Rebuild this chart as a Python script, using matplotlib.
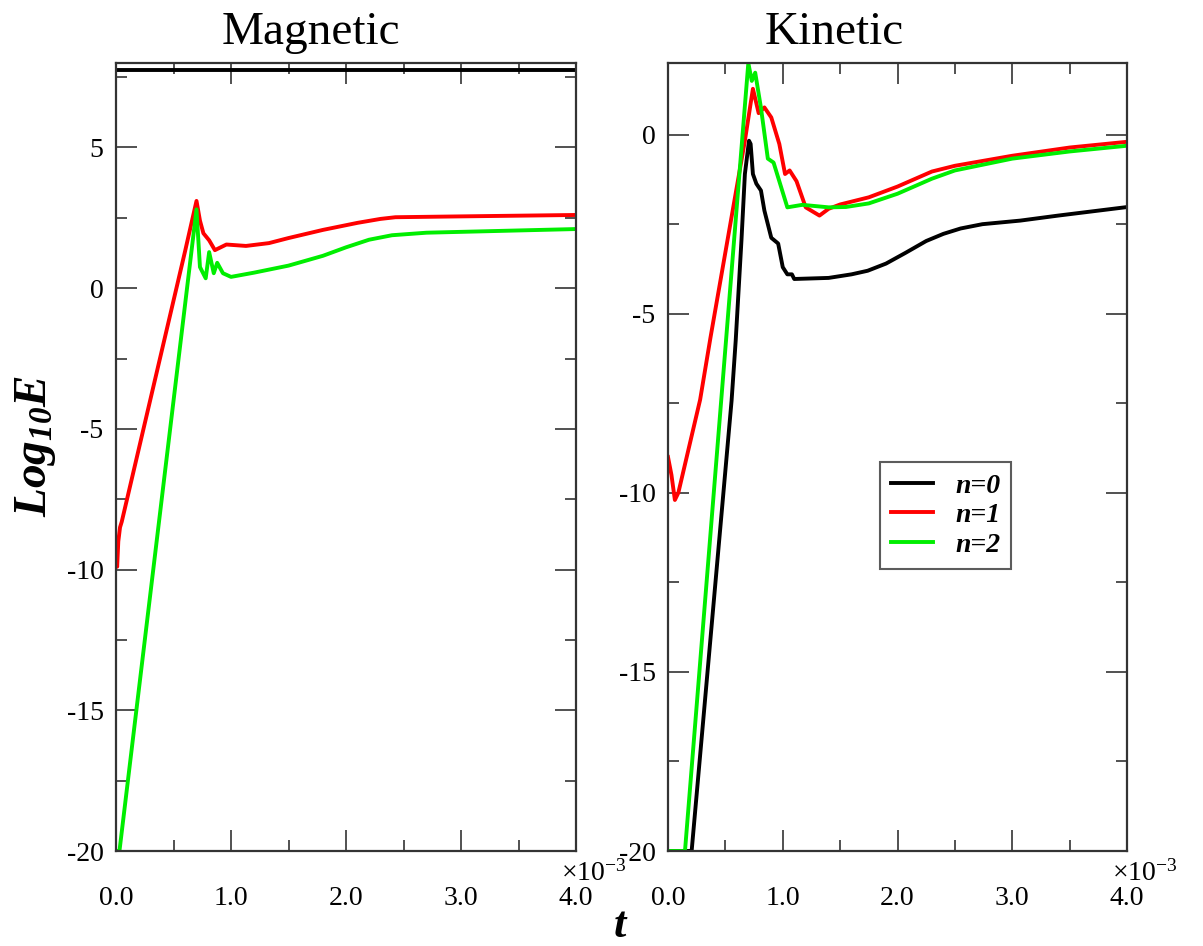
import matplotlib
matplotlib.use('Agg')
import matplotlib.pyplot as plt
from matplotlib.ticker import MultipleLocator, FuncFormatter

plt.rcParams['font.family'] = ['Liberation Serif', 'DejaVu Serif']
plt.rcParams['mathtext.fontset'] = 'custom'
plt.rcParams['mathtext.rm'] = 'Liberation Serif'
plt.rcParams['mathtext.it'] = 'Liberation Serif:italic'
plt.rcParams['mathtext.bf'] = 'Liberation Serif:bold:italic'

# ---------------------------------------------------------------------------
# Data (t in units of 1e-3, values are log10 E)
# ---------------------------------------------------------------------------

# Magnetic
mag_n0_t = [0.0, 4.0]
mag_n0_y = [7.75, 7.75]

mag_n1_t = [0.0, 0.01, 0.02, 0.035, 0.05, 0.6, 0.70, 0.73, 0.76, 0.81, 0.86,
            0.96, 1.13, 1.33, 1.5, 1.8, 2.1, 2.3, 2.43, 3.0, 4.0]
mag_n1_y = [-9.4, -9.9, -9.0, -8.5, -8.3, 1.3, 3.1, 2.4, 1.95, 1.7, 1.35,
            1.55, 1.5, 1.6, 1.78, 2.07, 2.32, 2.46, 2.52, 2.55, 2.6]

mag_n2_t = [0.0, 0.03, 0.24, 0.70, 0.73, 0.78, 0.81, 0.85, 0.88, 0.93, 1.0,
            1.2, 1.5, 1.8, 2.0, 2.2, 2.4, 2.7, 3.0, 4.0]
mag_n2_y = [-20.0, -20.0, -12.86, 2.8, 0.75, 0.35, 1.28, 0.53, 0.9, 0.53, 0.4,
            0.55, 0.8, 1.15, 1.45, 1.72, 1.88, 1.97, 2.0, 2.1]

# Kinetic
kin_n0_t = [0.0, 0.206, 0.554, 0.59, 0.64, 0.67, 0.706, 0.72, 0.74, 0.77,
            0.81, 0.84, 0.90, 0.96, 1.0, 1.04, 1.08, 1.10, 1.40, 1.6, 1.74,
            1.9, 2.07, 2.25, 2.4, 2.55, 2.74, 3.07, 3.4, 3.98]
kin_n0_y = [-20.0, -20.0, -7.43, -5.75, -2.96, -1.1, -0.17, -0.26, -1.1, -1.37,
            -1.56, -2.12, -2.88, -3.04, -3.7, -3.9, -3.9, -4.03, -4.0, -3.9,
            -3.8, -3.6, -3.3, -2.97, -2.77, -2.62, -2.5, -2.4, -2.26, -2.03]

kin_n1_t = [0.0, 0.03, 0.06, 0.09, 0.28, 0.37, 0.67, 0.74, 0.79, 0.84, 0.90,
            0.97, 1.02, 1.06, 1.12, 1.20, 1.32, 1.40, 1.5, 1.75, 2.0, 2.3,
            2.5, 3.0, 3.5, 4.0]
kin_n1_y = [-9.0, -9.5, -10.2, -10.0, -7.4, -5.67, -0.17, 1.28, 0.6, 0.76,
            0.48, -0.26, -1.1, -1.0, -1.3, -2.03, -2.26, -2.07, -1.95, -1.75,
            -1.45, -1.03, -0.87, -0.59, -0.36, -0.2]

kin_n2_t = [0.0, 0.148, 0.70, 0.73, 0.76, 0.81, 0.87, 0.92, 0.97, 1.04, 1.17,
            1.40, 1.55, 1.75, 2.0, 2.3, 2.5, 3.0, 3.5, 4.0]
kin_n2_y = [-20.0, -20.0, 2.0, 1.5, 1.73, 0.75, -0.67, -0.78, -1.3, -2.03,
            -1.96, -2.03, -2.02, -1.92, -1.65, -1.23, -1.0, -0.67, -0.47, -0.31]

COL = {0: 'black', 1: '#ff0000', 2: '#00ee00'}
LW = 2.8

fig = plt.figure(figsize=(12.03, 9.46), dpi=100)
ax_m = fig.add_axes([116 / 1203, 95 / 946, 460 / 1203, 788 / 946])
ax_k = fig.add_axes([668 / 1203, 95 / 946, 459 / 1203, 788 / 946])

ax_m.plot(mag_n0_t, mag_n0_y, color=COL[0], lw=LW)
ax_m.plot(mag_n1_t, mag_n1_y, color=COL[1], lw=LW)
ax_m.plot(mag_n2_t, mag_n2_y, color=COL[2], lw=LW)

ax_k.plot(kin_n0_t, kin_n0_y, color=COL[0], lw=LW, label='n=0')
ax_k.plot(kin_n1_t, kin_n1_y, color=COL[1], lw=LW, label='n=1')
ax_k.plot(kin_n2_t, kin_n2_y, color=COL[2], lw=LW, label='n=2')

ax_m.set_ylim(-20, 8)
ax_k.set_ylim(-20, 2)

fmt_x = FuncFormatter(lambda v, p: f'{v:.1f}')
fmt_y = FuncFormatter(lambda v, p: f'{v:.0f}')

for ax in (ax_m, ax_k):
    ax.set_xlim(0, 4.0)
    ax.xaxis.set_major_locator(MultipleLocator(1.0))
    ax.xaxis.set_minor_locator(MultipleLocator(0.5))
    ax.yaxis.set_major_locator(MultipleLocator(5))
    ax.yaxis.set_minor_locator(MultipleLocator(2.5))
    ax.xaxis.set_major_formatter(fmt_x)
    ax.yaxis.set_major_formatter(fmt_y)
    ax.tick_params(which='both', direction='in', top=True, right=True,
                   color='#333333', width=1.2, labelsize=20)
    ax.tick_params(which='major', length=15)
    ax.tick_params(which='minor', length=8)
    ax.tick_params(axis='x', pad=25)
    ax.tick_params(axis='y', pad=9)
    for s in ax.spines.values():
        s.set_color('#333333')
        s.set_linewidth(1.6)
    ax.text(0.968, -0.012, r'$\times10^{-3}$', transform=ax.transAxes,
            ha='left', va='top', fontsize=20)

fig.text(311 / 1203, 1 - 44 / 946, 'Magnetic', ha='center', va='baseline',
         fontsize=34)
fig.text(834 / 1203, 1 - 44 / 946, 'Kinetic', ha='center', va='baseline',
         fontsize=34)

fig.text(36 / 1203, 1 - 446 / 946, r'$\mathbf{Log}_{\mathbf{10}}\mathbf{E}$',
         rotation=90, ha='center', va='center', fontsize=34)
fig.text(620 / 1203, 1 - 937 / 946, 't', ha='center', va='baseline',
         fontsize=32, fontweight='bold', fontstyle='italic')

leg = ax_k.legend(loc='upper left', bbox_to_anchor=(880 / 1203, 1 - 462 / 946),
                  bbox_transform=fig.transFigure, fancybox=False, shadow=False,
                  handlelength=1.5, labelspacing=0.15, borderpad=0.4,
                  handletextpad=0.8, borderaxespad=0,
                  prop={'size': 20, 'weight': 'bold', 'style': 'italic'})
leg.get_frame().set_edgecolor('#333333')
leg.get_frame().set_linewidth(1.5)

fig.savefig('out.png', dpi=100)
